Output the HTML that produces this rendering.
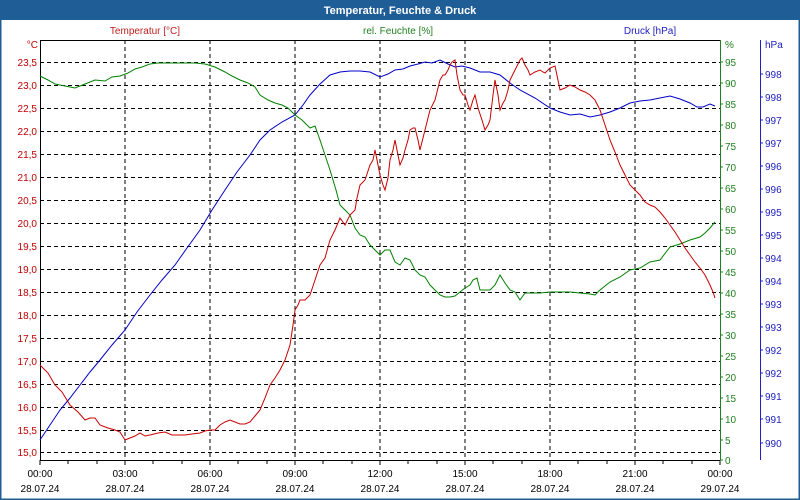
<!DOCTYPE html>
<html><head><meta charset="utf-8"><style>
html,body{margin:0;padding:0;background:#fff}
svg{display:block;font-family:"Liberation Sans",sans-serif;font-size:10px}
</style></head><body>
<svg width="800" height="500" xmlns="http://www.w3.org/2000/svg">
<rect x="0" y="0" width="800" height="500" fill="#fff"/>
<rect x="0" y="0" width="800" height="20" fill="#1e5d96"/>
<rect x="0.5" y="0.5" width="799" height="499" fill="none" stroke="#1e5d96" stroke-width="2"/>
<text x="400" y="14" text-anchor="middle" fill="#fff" font-weight="bold" font-size="11">Temperatur, Feuchte &amp; Druck</text>
<text x="145" y="34" text-anchor="middle" fill="#c02020">Temperatur [°C]</text>
<text x="398" y="34" text-anchor="middle" fill="#208020">rel. Feuchte [%]</text>
<text x="650" y="34" text-anchor="middle" fill="#2020c0">Druck [hPa]</text>
<text x="38" y="48" text-anchor="end" fill="#c00000">°C</text>
<text x="725" y="48" fill="#208020">%</text>
<text x="765" y="48" fill="#2020c0">hPa</text>
<g stroke="#000" stroke-dasharray="4,3" stroke-width="1">
<line x1="125" y1="40" x2="125" y2="460"/><line x1="210" y1="40" x2="210" y2="460"/><line x1="295" y1="40" x2="295" y2="460"/><line x1="380" y1="40" x2="380" y2="460"/><line x1="465" y1="40" x2="465" y2="460"/><line x1="550" y1="40" x2="550" y2="460"/><line x1="635" y1="40" x2="635" y2="460"/>
<line x1="40" y1="62.5" x2="720" y2="62.5"/><line x1="40" y1="85.5" x2="720" y2="85.5"/><line x1="40" y1="108.5" x2="720" y2="108.5"/><line x1="40" y1="131.5" x2="720" y2="131.5"/><line x1="40" y1="154.5" x2="720" y2="154.5"/><line x1="40" y1="177.5" x2="720" y2="177.5"/><line x1="40" y1="200.5" x2="720" y2="200.5"/><line x1="40" y1="223.5" x2="720" y2="223.5"/><line x1="40" y1="246.5" x2="720" y2="246.5"/><line x1="40" y1="269.5" x2="720" y2="269.5"/><line x1="40" y1="292.5" x2="720" y2="292.5"/><line x1="40" y1="315.5" x2="720" y2="315.5"/><line x1="40" y1="338.5" x2="720" y2="338.5"/><line x1="40" y1="361.5" x2="720" y2="361.5"/><line x1="40" y1="384.5" x2="720" y2="384.5"/><line x1="40" y1="407.5" x2="720" y2="407.5"/><line x1="40" y1="430.5" x2="720" y2="430.5"/><line x1="40" y1="452.5" x2="720" y2="452.5"/>
</g>
<line x1="40" y1="40.5" x2="720" y2="40.5" stroke="#000"/>
<line x1="40.5" y1="40" x2="40.5" y2="460" stroke="#000"/>
<line x1="40" y1="460.5" x2="720" y2="460.5" stroke="#000"/>
<line x1="720.5" y1="40" x2="720.5" y2="460" stroke="#208020"/>
<line x1="760.5" y1="40" x2="760.5" y2="460" stroke="#2020c0"/>
<g stroke="#000">
<path d="M40 460v5M68 460v4M97 460v4M125 460v5M153 460v4M182 460v4M210 460v5M238 460v4M267 460v4M295 460v5M323 460v4M352 460v4M380 460v5M408 460v4M437 460v4M465 460v5M493 460v4M522 460v4M550 460v5M578 460v4M607 460v4M635 460v5M663 460v4M692 460v4M720 460v5"/>
</g>
<g fill="#c00000" text-anchor="end">
<text x="37" y="66">23,5</text><text x="37" y="89">23,0</text><text x="37" y="112">22,5</text><text x="37" y="135">22,0</text><text x="37" y="158">21,5</text><text x="37" y="181">21,0</text><text x="37" y="204">20,5</text><text x="37" y="227">20,0</text><text x="37" y="250">19,5</text><text x="37" y="273">19,0</text><text x="37" y="296">18,5</text><text x="37" y="319">18,0</text><text x="37" y="342">17,5</text><text x="37" y="365">17,0</text><text x="37" y="388">16,5</text><text x="37" y="411">16,0</text><text x="37" y="434">15,5</text><text x="37" y="456">15,0</text>
</g>
<g fill="#208020" stroke="#208020">
<path d="M720 62h3M720 83h3M720 104h3M720 125h3M720 146h3M720 167h3M720 188h3M720 209h3M720 230h3M720 251h3M720 272h3M720 293h3M720 314h3M720 335h3M720 356h3M720 377h3M720 398h3M720 419h3M720 440h3M720 460h3"/>
</g>
<g fill="#208020">
<text x="725" y="66">95</text><text x="725" y="87">90</text><text x="725" y="108">85</text><text x="725" y="129">80</text><text x="725" y="150">75</text><text x="725" y="171">70</text><text x="725" y="192">65</text><text x="725" y="213">60</text><text x="725" y="234">55</text><text x="725" y="255">50</text><text x="725" y="276">45</text><text x="725" y="297">40</text><text x="725" y="318">35</text><text x="725" y="339">30</text><text x="725" y="360">25</text><text x="725" y="381">20</text><text x="725" y="402">15</text><text x="725" y="423">10</text><text x="725" y="444">5</text><text x="725" y="464">0</text>
</g>
<g fill="#2020c0">
<path stroke="#2020c0" d="M760 74h3M760 97h3M760 120h3M760 143h3M760 166h3M760 189h3M760 212h3M760 235h3M760 258h3M760 281h3M760 304h3M760 327h3M760 350h3M760 373h3M760 396h3M760 419h3M760 443h3"/>
<text x="765" y="78">998</text><text x="765" y="101">998</text><text x="765" y="124">997</text><text x="765" y="147">997</text><text x="765" y="170">996</text><text x="765" y="193">996</text><text x="765" y="216">995</text><text x="765" y="239">995</text><text x="765" y="262">994</text><text x="765" y="285">994</text><text x="765" y="308">993</text><text x="765" y="331">993</text><text x="765" y="354">992</text><text x="765" y="377">992</text><text x="765" y="400">991</text><text x="765" y="423">991</text><text x="765" y="447">990</text>
</g>
<g fill="#000" text-anchor="middle">
<text x="40" y="477">00:00</text><text x="125" y="477">03:00</text><text x="210" y="477">06:00</text><text x="295" y="477">09:00</text><text x="380" y="477">12:00</text><text x="465" y="477">15:00</text><text x="550" y="477">18:00</text><text x="635" y="477">21:00</text><text x="720" y="477">00:00</text>
<text x="40" y="492">28.07.24</text><text x="125" y="492">28.07.24</text><text x="210" y="492">28.07.24</text><text x="295" y="492">28.07.24</text><text x="380" y="492">28.07.24</text><text x="465" y="492">28.07.24</text><text x="550" y="492">28.07.24</text><text x="635" y="492">28.07.24</text><text x="720" y="492">29.07.24</text>
</g>
<polyline fill="none" stroke="#0000c8" points="40,440 50,425 60,410 70,398 80,385 90,372 100,360 112,345 125,330 137,312 150,295 162,280 175,265 187,248 200,230 212,210 225,190 237,172 250,155 260,140 270,130 282,122 295,115 303,105 310,95 320,84 330,75 340,72 350,71 360,71 370,72 380,77 388,74 395,70 403,69 410,66 418,64 425,62 432,63 440,60 448,64 455,67 462,66 470,68 475,70 480,72 490,72 500,75 510,83 520,90 535,98 550,108 560,112 570,115 580,114 590,117 600,115 610,112 620,108 630,103 640,101 650,100 660,98 670,96 680,99 690,103 697,107 703,107 710,104 715,106"/>
<polyline fill="none" stroke="#008000" points="40,76 48,80 55,84 65,86 75,88 85,84 95,80 105,81 112,77 120,76 128,73 135,69 142,67 150,64 158,63 165,63 180,63 195,63 205,64 215,67 225,72 232,76 240,80 248,83 255,87 260,95 268,100 275,103 282,105 288,108 295,115 302,120 310,128 315,126 320,140 325,155 330,170 336,190 340,205 345,210 350,215 355,228 360,235 365,237 370,245 375,250 380,255 385,250 390,250 395,262 400,265 405,258 410,260 415,270 420,275 425,277 430,285 435,290 440,295 445,297 450,297 455,296 460,292 465,288 470,285 473,280 477,278 480,290 485,290 490,290 495,285 500,275 505,283 510,290 515,292 520,300 525,293 530,293 540,293 550,292 560,292 570,292 580,293 590,294 595,295 600,290 610,282 620,277 630,270 640,268 650,262 660,260 670,247 680,244 690,240 700,237 705,233 710,228 715,222"/>
<polyline fill="none" stroke="#c80000" points="40,365 48,373 55,385 62,392 70,405 78,412 85,420 90,418 95,418 100,425 108,428 115,430 120,432 125,440 130,438 135,436 140,433 145,436 150,435 158,433 165,432 172,435 180,435 185,435 192,434 200,433 205,431 210,430 215,430 220,425 225,422 230,420 235,422 240,424 245,424 250,422 255,416 260,410 265,398 270,385 275,378 280,370 285,360 290,345 293,325 295,310 298,305 300,300 305,300 310,295 315,280 320,265 325,258 330,240 335,230 340,218 345,225 350,215 355,210 357,198 360,185 365,180 370,165 373,160 375,150 378,165 380,175 383,185 385,190 388,178 390,160 393,150 395,140 398,155 400,165 403,158 405,150 408,140 410,130 413,128 415,128 418,140 420,150 425,130 430,110 435,100 440,80 443,75 445,75 448,70 450,65 452,62 455,60 457,75 460,90 463,95 465,95 468,105 470,110 473,100 475,95 478,108 482,120 485,130 488,125 490,120 493,95 495,80 498,95 500,110 503,103 505,100 508,90 510,80 515,70 520,60 522,58 525,65 528,70 530,75 535,72 540,70 543,72 545,73 550,68 555,66 558,80 560,90 565,88 570,85 575,87 580,90 585,92 590,95 595,100 600,110 605,125 610,140 615,152 620,165 625,175 630,185 635,190 640,195 645,202 650,205 655,207 660,212 665,218 670,225 675,232 680,240 685,248 690,255 695,262 700,268 705,275 710,285 713,292 715,298"/>
</svg>
</body></html>
